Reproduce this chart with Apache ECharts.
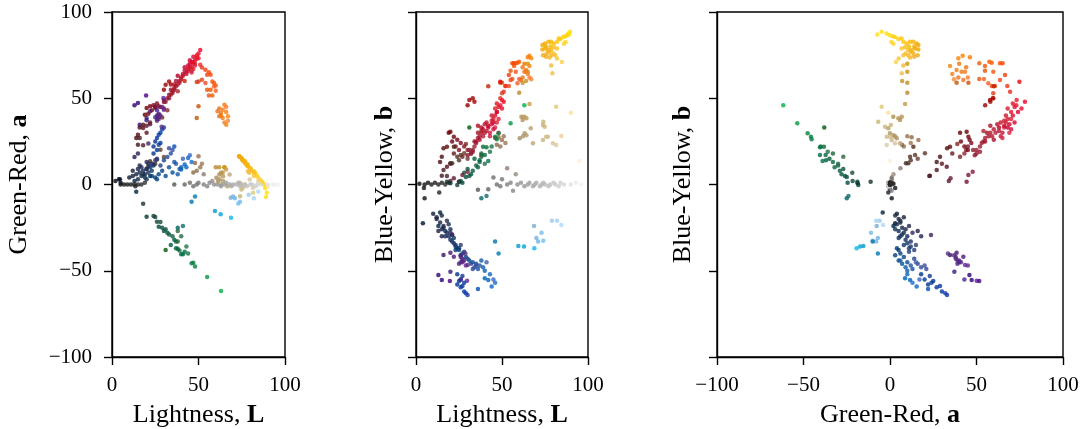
<!DOCTYPE html>
<html><head><meta charset="utf-8">
<script src="https://cdn.jsdelivr.net/npm/echarts@6/dist/echarts.min.js"></script>
<style>html,body{margin:0;padding:0;background:#fff}#c{width:1082px;height:429px}</style>
</head><body><div id="c"></div>
<script>
// Each point: [L, a, b] (CIELAB), read from the three projections
const yellowPts=[[89,-7.3,87],[89.5,-4.8,88.6],[88.5,-2,87.5],[88,-0.1,86.5],[87,1.5,85.9],[85.5,2.8,85.5],[87,0.8,82.6],[86,1.9,81.6],[84,4.8,84.3],[83,6.7,84.7],[82,7.7,82.8],[80,9.6,81.8],[78.5,11.6,82.8],[77,13.5,82.8],[75,15.4,81.8],[73.5,16.4,80.8],[82,6.7,78.9],[80.2,8.7,79.5],[78.6,10.6,78],[76.9,12.5,78],[75.2,14.5,78.9],[73.5,16.4,78.3],[81,7.7,75],[78.6,10.6,75],[76,13.5,76],[77.7,11.6,73.6],[75.6,14,74],[77.3,12,77],[78.2,11,80],[75.6,14,80],[73.9,16,75],[80,9,76],[84.8,3.5,71],[79.3,6.8,64.5],[78.6,7.7,69],[82,5,73]];
const goldPts=[[65,10,70],[65,10,65.4],[62,10,59],[60,10,53.2],[66,8.7,46.7],[64,7,60]];
const orangePts=[[66,34.7,68.7],[67,39.5,73.2],[66,42,74.7],[65,46.2,73.7],[64,38.5,66.4],[63,41.4,65.4],[64,43.4,65.4],[62,39.5,62.1],[61,42.4,60.6],[65,36,64],[62,44,68],[63,40,70],[67,37,61],[66,45,62],[50,45.3,59],[49,38.5,59]];
const redOrangePts=[[58,51.6,70.3],[57,54.9,68.7],[60,57.4,71.2],[59,58.8,70.6],[57,63.6,70.3],[56,65.1,70.3],[55,54.9,66],[58,59.7,65.4],[54,66.5,63.5],[56,51.6,61.2],[60,54.3,61.2],[59,56.8,58.7],[55,63.6,60.6],[52,60.7,57.1],[54,58.8,57.1],[52,67.8,57.1],[51,69.4,53.8],[50,59.7,52.9],[49,59.4,50]];
const redPts=[[51,78,48],[49,74.8,59.6],[50,73.2,49],[48,72,45],[47,70,42],[46,71,40],[45,68,38],[47,67,36],[44,69,35],[46,66,33],[43,65,30],[48,70,38],[45,72,36],[44,67,40],[42,66,34],[47,74,42],[46,68,44],[43,64,28],[45,70,32],[41,63,31],[44,66,37],[49,73,46],[42,68,33],[46,65,27],[48,69,30],[50,76,44],[47,71,47]];
const crimsonPts=[[40,62,35],[39,60,32],[38,58,30],[37,57,28],[36,55,27],[35,54,25],[34,52,22],[33,50,20],[32,50,18],[38,63,33],[41,64,36],[36,56,30],[35,53,24],[30,49,17],[31,48,20],[39,59,28],[37,60,26],[34,55,25],[40,61,30],[33,52,19],[36,58,34],[38,54,31],[30,55,46],[31,57.8,49],[33,59.7,50],[34,58,48],[42,60,57]];
const maroonPts=[[19,40.5,30],[20,44.3,30.6],[22,45.3,27.7],[24,46,26],[26,47,24],[28,45,22],[30,44,20],[32,43,18],[21,41,25],[23,43,22],[25,45,20],[27,40.5,16.1],[29,38.9,23.5],[18,34.7,21.9],[16,33,21],[15,28.9,16.1],[14,27,13],[15,23.1,5.1],[16,27,8.4],[18,32.8,10.3],[20,30,12],[22,36,18],[20,34,2],[22,35,3.6],[25,44.3,1.6],[27,45.3,5.5],[30,47.8,7.4],[18,22.7,4.9]];
const brownPts=[[22,13.5,21.9],[24,11.6,16.1],[26,14.5,17.1],[20,9.2,12.3],[21,10.6,12.3],[28,20.2,18.1],[30,16,15],[25,12,14],[48,12.5,27.4],[50,16.4,25.8],[52,12,24],[49,8,22],[47,7,23],[51,10,28],[53,6,9.4]];
const tanPts=[[81.5,-4.8,45.1],[90,-1,41.6],[61.3,1.9,39.3],[64.2,4.8,38.4],[63,6.8,39.3],[62,5.8,37.4],[74,-6.8,36.4],[74.8,-2.9,33.5],[66.7,-1,32.6],[73.8,0.5,34.5],[75.7,-1.9,27.7],[63.2,0,29.7],[73.8,1,25.8],[60.3,3.9,26.8],[68,5.8,23.9],[81.5,-1.9,22.9],[79.6,2.9,23.9],[84.5,2,28.1],[62.2,3,28],[64.2,2,28.5],[76.7,0,27.7],[95,0,13.6]];
const grayPts=[[36,0,-3],[42,0,-2.8],[47,-1,0],[49,0,-1],[53,0,0],[55,-1,1],[56.4,1,-3.6],[59,0,0],[61,0,1],[63,-1,-1],[65,0,0],[66,1,1],[68,0,-1],[69,-1,0],[70,0,1],[72,0,-1],[73,1,0],[74,-1,1],[75,0,0],[77,0,-1],[78,-1,0],[80,0,1],[81,0,0],[83,-1,-1],[84,0,1],[86,0,0],[90,0,0],[93,0,1],[96,0,0],[45,1,4],[58,2,6],[50,1,3]];
const blackPts=[[2,2,0.5],[5,0,0],[7,0,1],[9,0,0],[11,0,1],[13,0,0],[15,0,1],[17,0,0],[19,1,1],[5,1,-8],[13.5,-1,-4.7],[4.6,3,-2],[18,-11.2,1.6]];
const navyPts=[[4,3,-22.5],[10,4,-17],[12,5,-20],[14,6,-22],[15,3,-18],[16,7,-25],[17,5,-27],[18,8,-28],[19,6,-30],[20,9,-32],[21,7,-29],[22,10,-34],[23,8,-35],[24,11,-37],[13,2,-24],[15,9,-26],[17,10,-30],[19,4,-23],[21,12,-33],[14,-4.2,-16.3],[18,6,-21],[20,3,-26],[16,11,-24],[22,5,-31],[12,8,-19],[23,12,-36],[25,14,-38],[26,15,-35],[20,13,-28],[21,23.7,-29.3],[13,16,-27],[15,18,-30]];
const bluePts=[[25,4,-37],[27,6,-40],[29,8,-42],[31,5,-44],[33,10,-45],[35,7,-46],[37,12,-47],[39,9,-48],[30,14,-43],[32,16,-46],[34,18,-48],[36,13,-49],[28,11,-39],[26,3,-41],[38,6,-44],[40,10,-50],[41,15,-45],[35,20,-47],[33,21,-49],[23,5,-38],[40,8.7,-54.4],[42,11.6,-55.4],[44,15.4,-59.2],[46,13,-57],[43,10,-52],[45,17,-55],[36,22,-60.6]];
const royalPts=[[24,22,-58],[26,27,-59.6],[27,28.9,-58.8],[28,30,-62],[29,32,-63],[25,25,-56],[27,23,-53],[30,33,-64],[24,18,-52],[26,20,-55],[28,24,-57]];
const purplePts=[[26,38,-42],[27,39,-44],[26,40,-45],[27,38,-43],[25,39,-46],[28,40,-44],[26,37,-41],[27,41,-45],[16,34.7,-40.9],[20,38.5,-39.5],[22,42.4,-41.9],[30,43.4,-46.7],[29,45,-47],[13,45.9,-52.5],[15,47.2,-55.4],[29.7,50.1,-55.8],[19.7,51.6,-56],[26,43,-55],[20,37.2,-50.6],[28.7,33.5,-40]];
const lightBluePts=[[79,-6,-21],[82,-8,-21],[84.5,-4,-23.5],[68.6,-7.7,-24],[70,-7,-31],[71,-8,-33],[73,-11,-28],[74,-10,-32.6],[59.5,-15.4,-35.7],[62.8,-17.3,-36],[68.8,-19.3,-37],[46,-10,-33],[48,-7,-40]];
const greenPts=[[44,-40,22],[41,-40.5,21.6],[39,-38.2,21.9],[40,-40.5,17.1],[38,-37.2,17.1],[42,-39,13.6],[37,-33,13],[36,-32,10],[35,-30,11],[33,-29,8],[32,-28,6],[31,-26,5],[30,-27,9],[38,-27,16.1],[29,-25,4.3],[28,-21.8,6.8],[27,-24.5,1],[26,-21.6,2],[24,-18.3,-0.3],[25,-18.9,1.6],[20,-18.7,0.7],[38,-33,18],[40,-30,12],[43,-36,19],[34,-35,15],[37,-37,14],[31,-38,33],[38,-25,-8],[41,-24,-6.7],[63,-61.7,46],[55,-53.6,35.5],[48,-47.6,29.7],[46,-45.7,27.7],[47,-45.3,26.2]];

const xTicks=[0,50,100];
const yTicks=[-100,-50,0,50,100];

const allPts=[].concat(yellowPts,goldPts,orangePts,redOrangePts,redPts,crimsonPts,maroonPts,brownPts,tanPts,grayPts,blackPts,navyPts,bluePts,royalPts,purplePts,lightBluePts,greenPts);

function lab2hex(L,a,b){
  const fy=(L+16)/116, fx=fy+a/500, fz=fy-b/200;
  const f=t=>{const t3=t*t*t;return t3>0.008856?t3:(t-16/116)/7.787;};
  const X=0.95047*f(fx), Y=f(fy), Z=1.08883*f(fz);
  let r=3.2406*X-1.5372*Y-0.4986*Z, g=-0.9689*X+1.8758*Y+0.0415*Z, bb=0.0557*X-0.2040*Y+1.0570*Z;
  const gm=c=>{c=c>0.0031308?1.055*Math.pow(c,1/2.4)-0.055:12.92*c;return Math.max(0,Math.min(255,Math.round(c*255)));};
  return 'rgb('+gm(r)+','+gm(g)+','+gm(bb)+')';
}

const FONT='Liberation Serif';
const minus=v=>String(v).replace('-','\u2212');
function xAx(gi,min,max,name){
  return {gridIndex:gi,type:'value',min:min,max:max,interval:50,
    axisLine:{onZero:false,lineStyle:{color:'#000',width:1.4}},
    axisTick:{length:8,lineStyle:{color:'#000',width:1.4}},
    axisLabel:{color:'#000',fontFamily:FONT,fontSize:21,margin:18,formatter:minus},
    splitLine:{show:false},
    name:name,nameLocation:'middle',nameGap:45,
    nameTextStyle:{color:'#000',fontFamily:FONT,fontSize:26,rich:{b:{fontFamily:FONT,fontSize:26,fontWeight:'bold',color:'#000'}}}};
}
function yAx(gi,name,showLabels,gap){
  return {gridIndex:gi,type:'value',min:-100,max:100,interval:50,
    axisLine:{onZero:false,lineStyle:{color:'#000',width:1.4}},
    axisTick:{length:8,lineStyle:{color:'#000',width:1.4}},
    axisLabel:{show:showLabels,color:'#000',fontFamily:FONT,fontSize:21,margin:20,formatter:minus},
    splitLine:{show:false},
    name:name,nameLocation:'middle',nameGap:gap,
    nameTextStyle:{color:'#000',fontFamily:FONT,fontSize:26,rich:{b:{fontFamily:FONT,fontSize:26,fontWeight:'bold',color:'#000'}}}};
}
function mk(idx){
  return allPts.map(p=>({value:[p[idx[0]],p[idx[1]]],itemStyle:{color:lab2hex(p[0],p[1],p[2])}}));
}
const gridBase={show:true,borderColor:'#000',borderWidth:1.4,backgroundColor:'transparent',top:12,height:345,containLabel:false,outerBoundsMode:'none'};
const chart=echarts.init(document.getElementById('c'),null,{renderer:'canvas'});
chart.setOption({
  animation:false,
  backgroundColor:'#fff',
  grid:[Object.assign({left:112,width:173},gridBase),Object.assign({left:416,width:172},gridBase),Object.assign({left:717,width:346},gridBase)],
  xAxis:[xAx(0,0,100,'Lightness, {b|L}'),xAx(1,0,100,'Lightness, {b|L}'),xAx(2,-100,100,'Green-Red, {b|a}')],
  yAxis:[yAx(0,'Green-Red, {b|a}',true,80),yAx(1,'Blue-Yellow, {b|b}',false,18),yAx(2,'Blue-Yellow, {b|b}',false,21)],
  series:[
    {type:'scatter',xAxisIndex:0,yAxisIndex:0,symbolSize:4.5,data:mk([0,1]),silent:true},
    {type:'scatter',xAxisIndex:1,yAxisIndex:1,symbolSize:4.5,data:mk([0,2]),silent:true},
    {type:'scatter',xAxisIndex:2,yAxisIndex:2,symbolSize:4.5,data:mk([1,2]),silent:true}
  ]
});
</script></body></html>
